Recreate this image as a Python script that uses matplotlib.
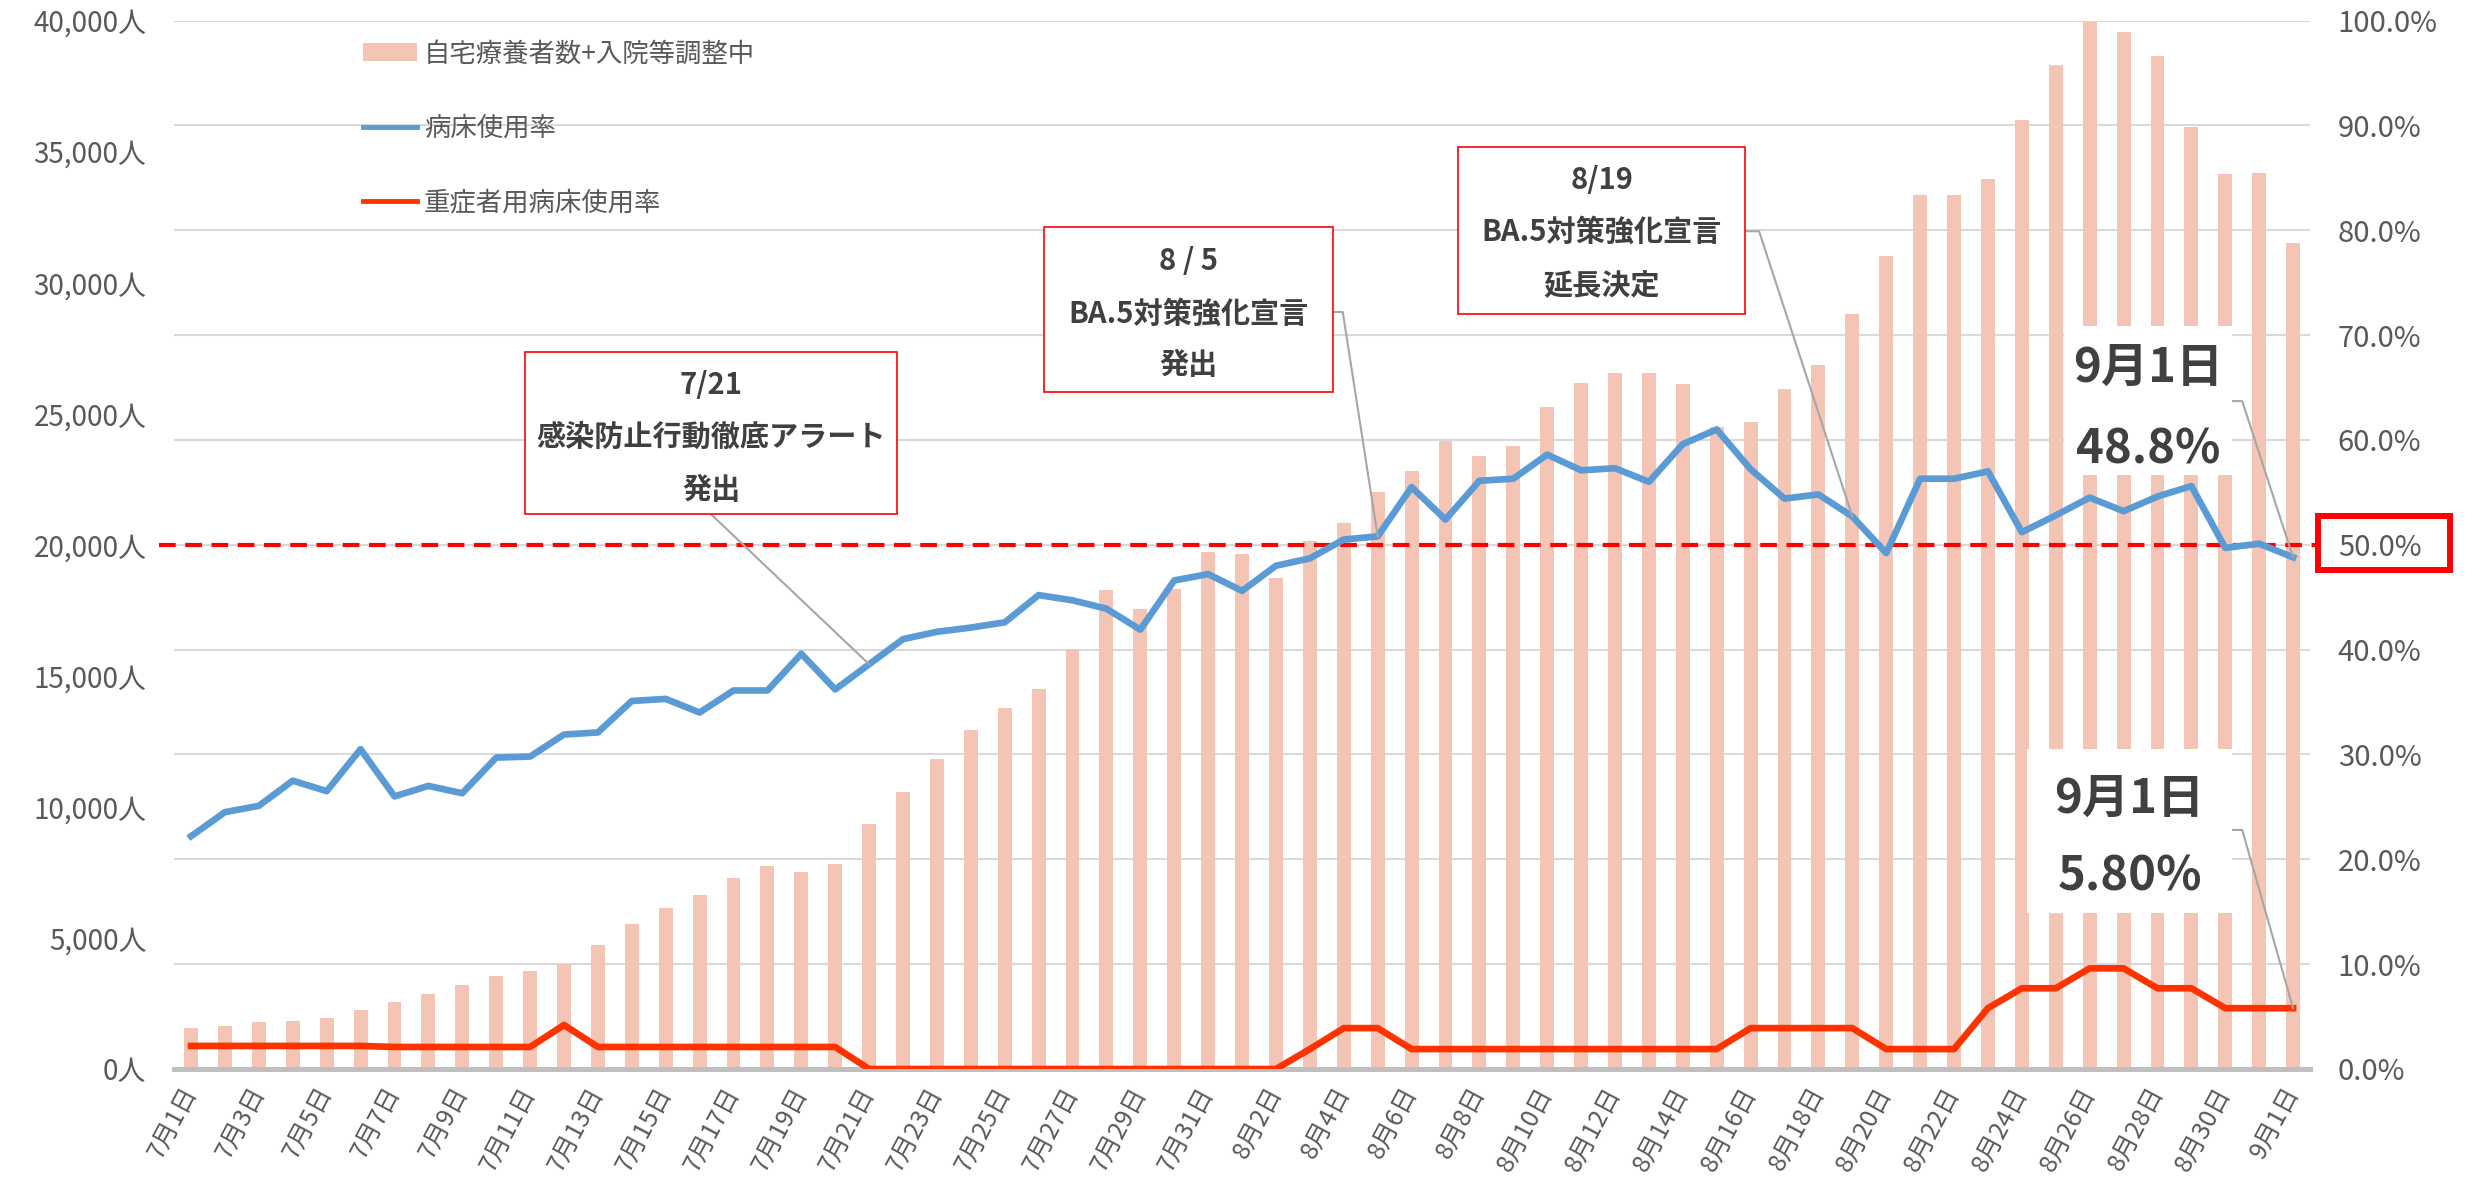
import matplotlib
matplotlib.use("Agg")
import matplotlib.pyplot as plt
from matplotlib.patches import Rectangle
from matplotlib.ticker import MultipleLocator, FuncFormatter

plt.rcParams['font.family'] = ['Noto Sans CJK JP', 'DejaVu Sans']

# 日付 (7/1 - 9/1)
dates = ([f"7月{d}日" for d in range(1, 32)]
         + [f"8月{d}日" for d in range(1, 32)]
         + ["9月1日"])

# 自宅療養者数+入院等調整中 (人)
home_care = [1580, 1650, 1790, 1840, 1930, 2260, 2540, 2850, 3200, 3530,
             3750, 4010, 4730, 5540, 6150, 6640, 7300, 7760, 7510, 7820,
             9330, 10570, 11840, 12950, 13760, 14480, 16010, 18260, 17540, 18300,
             19710,
             19660, 18750, 20130, 20820, 22030, 22810, 23970, 23390, 23760, 25240,
             26190, 26550, 26550, 26120, 24500, 24690, 25930, 26850, 28820, 31000,
             33350, 33330, 33970, 36190, 38290, 39950, 39550, 38640, 35940, 34130,
             34200,
             31530]

# 病床使用率 (%)
bed_rate = [22.2, 24.5, 25.1, 27.5, 26.5, 30.5, 26.0, 27.0, 26.3, 29.7,
            29.8, 31.9, 32.1, 35.1, 35.3, 34.0, 36.1, 36.1, 39.6, 36.2,
            38.6, 41.0, 41.7, 42.1, 42.6, 45.2, 44.7, 43.9, 41.9, 46.6,
            47.2,
            45.6, 48.0, 48.7, 50.5, 50.8, 55.5, 52.4, 56.1, 56.3, 58.6,
            57.1, 57.3, 56.0, 59.6, 61.0, 57.2, 54.4, 54.8, 52.7, 49.2,
            56.3, 56.3, 57.0, 51.2, 52.8, 54.5, 53.2, 54.6, 55.6, 49.7,
            50.1,
            48.8]

# 重症者用病床使用率 (%)
severe_rate = [2.2, 2.2, 2.2, 2.2, 2.2, 2.2, 2.1, 2.1, 2.1, 2.1,
               2.1, 4.2, 2.1, 2.1, 2.1, 2.1, 2.1, 2.1, 2.1, 2.1,
               0, 0, 0, 0, 0, 0, 0, 0, 0, 0,
               0,
               0, 0, 1.9, 3.9, 3.9, 1.9, 1.9, 1.9, 1.9, 1.9,
               1.9, 1.9, 1.9, 1.9, 1.9, 3.9, 3.9, 3.9, 3.9, 1.9,
               1.9, 1.9, 5.8, 7.7, 7.7, 9.6, 9.6, 7.7, 7.7, 5.8,
               5.8,
               5.8]

GRAY = '#595959'
x = list(range(len(dates)))

fig = plt.figure(figsize=(24.73, 11.79), dpi=100)
ax = fig.add_axes([0.0704, 0.0933, 0.8637, 0.8893])

bars = ax.bar(x, home_care, width=0.41, color='#F4C5B4', zorder=2,
              label='自宅療養者数+入院等調整中')
ax.set_xlim(-0.5, len(x) - 0.5)
ax.set_ylim(0, 40000)
ax.yaxis.set_major_locator(MultipleLocator(5000))
ax.yaxis.set_major_formatter(FuncFormatter(lambda v, p: f"{int(v):,}人"))
# 目盛線は右軸(10%刻み)に合わせる
ax.yaxis.set_minor_locator(MultipleLocator(4000))
ax.yaxis.remove_overlapping_locs = False
ax.grid(which='minor', axis='y', color='#D9D9D9', lw=1.5)
ax.set_axisbelow(True)
ax.tick_params(axis='y', which='both', length=0, pad=20, labelsize=20,
               labelcolor=GRAY)
ax.set_xticks(x[::2])
ax.set_xticklabels(dates[::2], rotation=62, ha='right', va='center',
                   rotation_mode='anchor', fontsize=18, color=GRAY)
ax.tick_params(axis='x', length=0, pad=14)
for s in ax.spines.values():
    s.set_visible(False)
ax.axhline(0, color='#BFBFBF', lw=3.6, zorder=3, clip_on=False)

ax2 = ax.twinx()
ax2.set_ylim(0, 1)
ax2.yaxis.set_major_locator(MultipleLocator(0.1))
ax2.yaxis.set_major_formatter(FuncFormatter(lambda v, p: f"{v * 100:.1f}%"))
ax2.tick_params(axis='y', length=0, pad=20, labelsize=21, labelcolor=GRAY)
for s in ax2.spines.values():
    s.set_visible(False)

l1, = ax2.plot(x, [v / 100 for v in bed_rate], color='#5B9BD5', lw=4.8,
               zorder=4, label='病床使用率')
l2, = ax2.plot(x, [v / 100 for v in severe_rate], color='#FF3300', lw=4.8,
               zorder=4, label='重症者用病床使用率')
ax2.axhline(0.5, xmin=-0.007, xmax=1.003, color='#FF0000', lw=3,
            dashes=(4, 2.3), zorder=3, clip_on=False)

leg = ax2.legend(handles=[bars, l1, l2], loc='upper left',
                 bbox_to_anchor=(0.0885, 0.981), frameon=False, fontsize=19,
                 handlelength=2.05, handleheight=0.65, handletextpad=0.25,
                 labelspacing=1.8, borderpad=0, borderaxespad=0,
                 labelcolor=GRAY)
for h in leg.legend_handles[1:]:
    h.set_linewidth(3.5)


def callout(box, lines, line_y, size, edge, path):
    x0, x1, y0, y1 = box
    ax2.add_patch(Rectangle((x0, y0), x1 - x0, y1 - y0, facecolor='white',
                            edgecolor=edge, lw=1.2, zorder=6, clip_on=False))
    cx = (x0 + x1) / 2
    for s, yy in zip(lines, line_y):
        ax2.text(cx, yy, s, ha='center', va='center', fontsize=size,
                 fontweight='bold', color='#404040', zorder=7)
    ax2.plot([p[0] for p in path], [p[1] for p in path], color='#A6A6A6',
             lw=1.5, zorder=5, clip_on=False)


callout((9.85, 20.83, 0.529, 0.684), ['7/21', '感染防止行動徹底アラート', '発出'],
        [0.652, 0.603, 0.552], 21, '#FF0000',
        [(15.34, 0.529), (20, bed_rate[20] / 100)])
callout((25.16, 33.69, 0.646, 0.803), ['8 / 5', 'BA.5対策強化宣言', '発出'],
        [0.771, 0.720, 0.671], 21, '#FF0000',
        [(33.69, 0.722), (33.97, 0.722), (35, bed_rate[35] / 100)])
callout((37.37, 45.84, 0.720, 0.879), ['8/19', 'BA.5対策強化宣言', '延長決定'],
        [0.848, 0.798, 0.747], 21, '#FF0000',
        [(45.84, 0.799), (46.25, 0.799), (49, bed_rate[49] / 100)])
callout((55.25, 60.21, 0.567, 0.709), ['9月1日', f"{bed_rate[-1]:.1f}%"],
        [0.669, 0.591], 34, 'none',
        [(60.21, 0.637), (60.5, 0.637), (62, bed_rate[-1] / 100)])
callout((54.16, 60.2, 0.149, 0.305), ['9月1日', f"{severe_rate[-1]:.2f}%"],
        [0.258, 0.184], 34, 'none',
        [(60.2, 0.228), (60.5, 0.228), (62, severe_rate[-1] / 100)])

# 右軸 50.0% の強調枠
fig.add_artist(Rectangle((0.9373, 0.5163), 0.0534, 0.0463,
                         transform=fig.transFigure, fill=False,
                         edgecolor='#FF0000', lw=4.3))

fig.savefig('out.png', dpi=100)
